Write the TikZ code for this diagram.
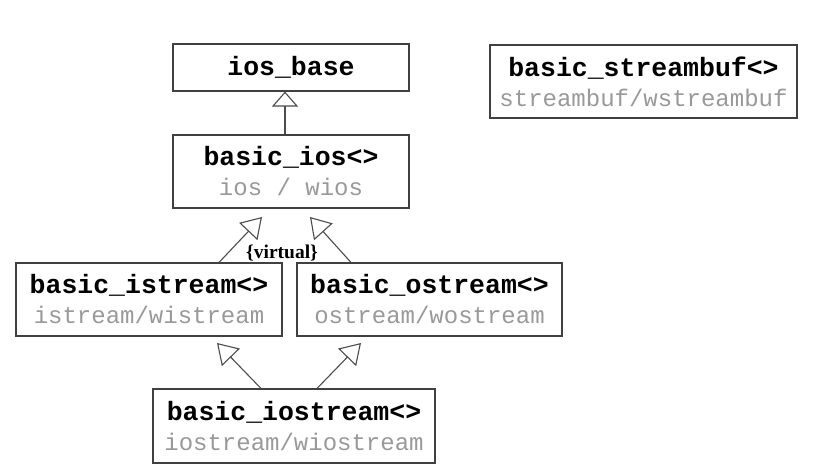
\documentclass[tikz,border=0pt]{standalone}
\usepackage{fontspec}
\setmainfont{Liberation Serif}
\setmonofont{Liberation Mono}
\usetikzlibrary{arrows.meta}

\tikzset{
  cls/.style={draw=black!75, line width=1.1pt, align=center, inner sep=0pt,
    font=\ttfamily\fontsize{24}{30}\selectfont},
  inh/.style={draw=black!70, line width=1.1pt, -{Triangle[open, length=20pt, width=25pt]}},
}
\newcommand{\clsname}[1]{{\fontsize{26.5}{30}\selectfont\bfseries #1}}
\newcommand{\clsalias}[1]{{\color{black!40}#1}}

\begin{document}
\begin{tikzpicture}[x=1pt, y=1pt]
  \useasboundingbox (0,0) rectangle (822,473);
  % the class templates and their char/wchar_t typedefs
  \node[cls, minimum width=236pt, minimum height=47pt] (base) at (291,405.5) {\clsname{ios\_base}};
  \node[cls, minimum width=236pt, minimum height=73pt] (ios) at (291,301.5) {\clsname{basic\_ios<>}\\\clsalias{ios / wios}};
  \node[cls, minimum width=307pt, minimum height=73pt] (sbuf) at (643.5,391.5) {\clsname{basic\_streambuf<>}\\\clsalias{streambuf/wstreambuf}};
  \node[cls, minimum width=266pt, minimum height=73pt] (istream) at (149,173.5) {\clsname{basic\_istream<>}\\\clsalias{istream/wistream}};
  \node[cls, minimum width=265pt, minimum height=73pt] (ostream) at (429.5,173.5) {\clsname{basic\_ostream<>}\\\clsalias{ostream/wostream}};
  \node[cls, minimum width=282pt, minimum height=74pt] (iostream) at (294,47) {\clsname{basic\_iostream<>}\\\clsalias{iostream/wiostream}};
  % inheritance: open heads stop a little short of the base class
  \coordinate (iosL) at (262,256);
  \coordinate (iosR) at (310,256);
  \coordinate (istrT) at (217,130);
  \coordinate (ostrT) at (361,130);
  \draw[inh, -{Triangle[open, length=15pt, width=26pt]}] ([xshift=-6pt]ios.north) -- ([xshift=-6pt]base.south);
  \draw[inh] ([xshift=70pt]istream.north) -- (iosL);
  \draw[inh] ([xshift=-78.5pt]ostream.north) -- (iosR);
  \draw[inh] ([xshift=-33pt]iostream.north) -- (istrT);
  \draw[inh] ([xshift=23pt]iostream.north) -- (ostrT);
  \node[font=\fontsize{19.5}{22}\selectfont\bfseries, inner sep=0pt] (virt) at (282,220) {\{virtual\}};
\end{tikzpicture}
\end{document}
